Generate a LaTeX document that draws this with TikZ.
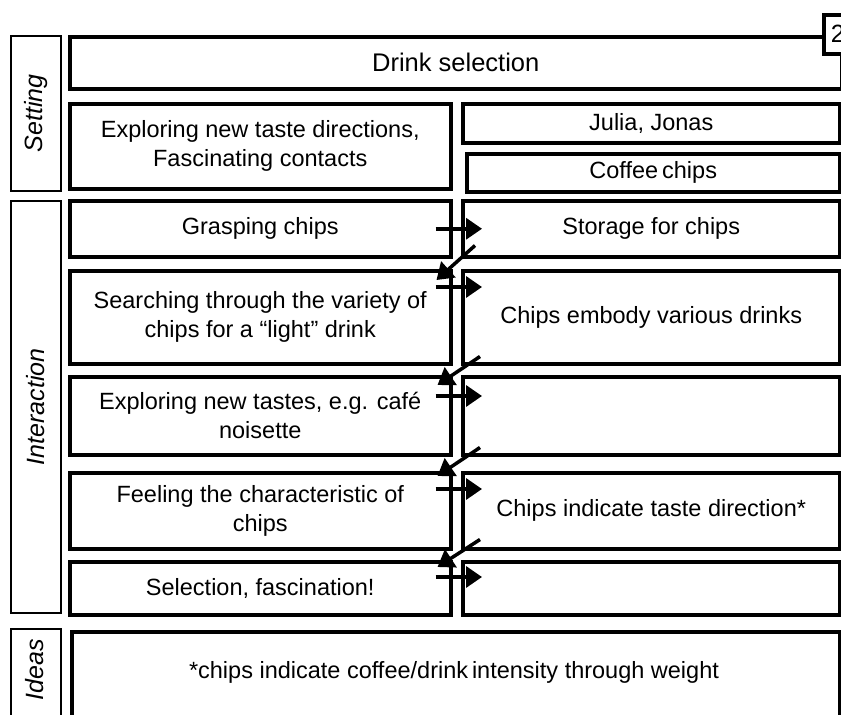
\documentclass[tikz,border=0pt]{standalone}
\usepackage{fontspec}
\setmainfont{Liberation Sans}
\usetikzlibrary{arrows.meta}

\begin{document}
\begin{tikzpicture}[x=1pt,y=-1pt]
\tikzstyle{every node}=[font=\fontsize{23.5}{29}\selectfont,inner sep=0pt,align=center]
\tikzstyle{lane}=[draw,line width=1.5pt,anchor=north west,minimum width=50pt]
\tikzstyle{lanetext}=[rotate=90,font=\fontsize{25}{30}\selectfont\itshape]
\tikzstyle{cell}=[draw,line width=3.5pt,anchor=north west]
\tikzstyle{flow}=[line width=3.5pt,-{Triangle[length=16pt,width=21pt]}]
\useasboundingbox (0,0) rectangle (841,715);
\clip (0,0) rectangle (841,715);
\fill[white] (0,0) rectangle (841,715);

% lane labels
\node[lane,minimum height=155pt] (setting) at (10,35) {};
\node[lanetext] at (setting.center) {Setting};
\node[lane,minimum height=412pt] (interaction) at (10,200) {};
\node[lanetext] at (interaction.center) {Interaction};
\node[lane,minimum height=120pt] (ideas) at (10,628) {};
\node[lanetext] at (35,670) {Ideas};

% setting
\node[cell,minimum width=772pt,minimum height=52pt,font=\fontsize{25.5}{30}\selectfont] (drink) at (68,35) {Drink selection};
\node[cell,fill=white,minimum width=30pt,minimum height=39pt,text width=26pt,align=left,font=\fontsize{25}{30}\selectfont] (num) at (822,13) {\hspace{5pt}2};
\node[cell,minimum width=381pt,minimum height=85pt] (motive) at (68,102) {Exploring new taste directions,\\Fascinating contacts};
\node[cell,minimum width=377pt,minimum height=39pt] (people) at (461,102) {Julia, Jonas};
\node[cell,minimum width=373pt,minimum height=38pt] (object) at (465,152) {Coffee\,chips};

% interaction, left: actions, right: object
\node[cell,minimum width=381pt,minimum height=56pt] (l1) at (68,199) {Grasping chips};
\node[cell,minimum width=377pt,minimum height=56pt] (r1) at (461,199) {Storage for chips};
\node[cell,minimum width=381pt,minimum height=93pt] (l2) at (68,269) {Searching through the variety of\\chips for a ``light'' drink};
\node[cell,minimum width=377pt,minimum height=93pt] (r2) at (461,269) {Chips embody various drinks};
\node[cell,minimum width=381pt,minimum height=78pt] (l3) at (68,375) {Exploring new tastes, e.g. café\\noisette};
\node[cell,minimum width=377pt,minimum height=78pt] (r3) at (461,375) {};
\node[cell,minimum width=381pt,minimum height=76pt] (l4) at (68,471) {Feeling the characteristic of\\chips};
\node[cell,minimum width=377pt,minimum height=76pt] (r4) at (461,471) {Chips indicate taste direction*};
\node[cell,minimum width=381pt,minimum height=53pt] (l5) at (68,560) {Selection, fascination!};
\node[cell,minimum width=377pt,minimum height=53pt] (r5) at (461,560) {};

% ideas
\node[cell,minimum width=768pt,minimum height=120pt] (idea) at (70,630) {};
\node at (454,672) {*chips indicate coffee/drink\,intensity through weight};

% arrows between the columns
\draw[flow] ([xshift=-17pt]l1.east) -- ([xshift=21pt]r1.west);
\draw[flow] ([xshift=-17pt,yshift=-18pt]l2.north east) -- ([xshift=21pt,yshift=-18pt]r2.north west);
\draw[flow] ([xshift=-17pt,yshift=-21pt]l3.north east) -- ([xshift=21pt,yshift=-21pt]r3.north west);
\draw[flow] ([xshift=-17pt,yshift=-18pt]l4.north east) -- ([xshift=21pt,yshift=-18pt]r4.north west);
\draw[flow] ([xshift=-17pt,yshift=-17pt]l5.north east) -- ([xshift=21pt,yshift=-17pt]r5.north west);
\draw[flow] ([xshift=14pt,yshift=13pt]r1.south west) -- ([xshift=-16pt,yshift=-11pt]l2.north east);
\draw[flow] ([xshift=19pt,yshift=9pt]r2.south west) -- ([xshift=-15pt,yshift=-10pt]l3.north east);
\draw[flow] ([xshift=19pt,yshift=9pt]r3.south west) -- ([xshift=-15pt,yshift=-5pt]l4.north east);
\draw[flow] ([xshift=19pt,yshift=11pt]r4.south west) -- ([xshift=-15pt,yshift=-7pt]l5.north east);
\end{tikzpicture}
\end{document}
